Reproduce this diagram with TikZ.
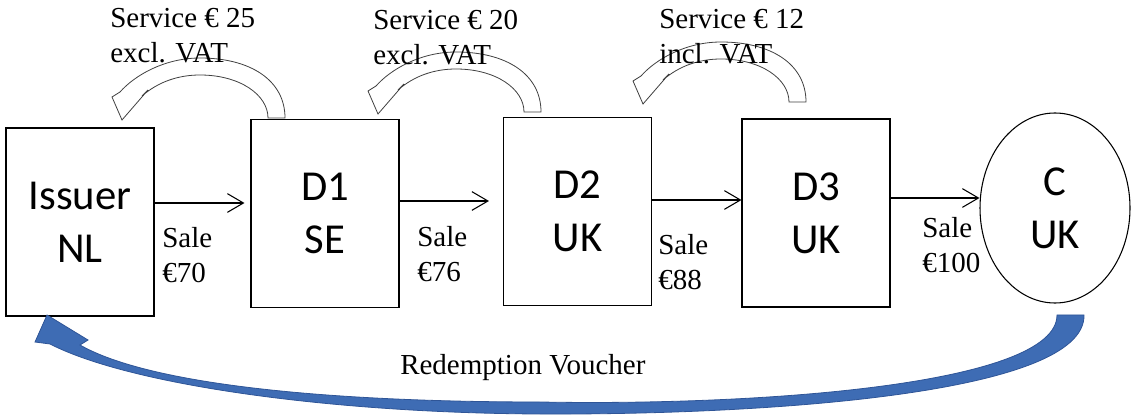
\documentclass[tikz,border=0pt]{standalone}
\usepackage{fontspec}
\setmainfont{Liberation Serif}
\newfontfamily\boxfont{Carlito}
\usetikzlibrary{arrows.meta,shapes.geometric}
\definecolor{voucherblue}{RGB}{62,108,180}
\definecolor{voucheredge}{RGB}{47,85,151}
\tikzset{
	party/.style={draw, line width=0.8pt, inner sep=0pt, align=center, font=\boxfont\fontsize{32}{40}\selectfont},
	dealer/.style={party, rectangle, minimum width=111pt, minimum height=141pt},
	lbl/.style={inner sep=0pt, anchor=base west, align=left, font=\fontsize{21.75}{26.5}\selectfont},
	sale/.style={-{Straight Barb[length=12pt,width=14pt]}, line width=0.8pt},
	svc/.style={draw=black!75, fill=white, line width=0.6pt}
}
\def\servicearrow(#1,#2){\draw[svc,shift={(#1,#2)}] (268,118) -- (285,118) .. controls (285,80) and (250,58) .. (200,58) .. controls (165,58) and (135,75) .. (120,92) -- (112,97) -- (122,120) -- (148,90) -- (142,96) .. controls (158,82) and (178,75) .. (200,75) .. controls (240,75) and (268,95) .. (268,118) -- cycle;}
\begin{document}
\begin{tikzpicture}[x=0.75pt,y=-0.75pt]
			%%%%% START %%%%%
			\useasboundingbox (0,0) rectangle (1131,416);
			
			\servicearrow(0,0)
			\servicearrow(256,-6)
			\servicearrow(521,-16)
			
			% base of the last line
			\node[lbl] (svc1) at (110,63) {Service € 25\\excl. VAT};
			\node[lbl] (svc2) at (373,65) {Service € 20\\excl. VAT};
			\node[lbl] (svc3) at (659,64) {Service € 12\\incl. VAT};
			
			\node[dealer] (issuer) at (80,222) {Issuer\\NL};
			\node[dealer] (d1) at (325,213.5) {D1\\SE};
			\node[dealer] (d2) at (577.5,211.5) {D2\\UK};
			\node[dealer] (d3) at (816,213) {D3\\UK};
			\node[party, ellipse, minimum width=112.5pt, minimum height=142.5pt] (c) at (1055,208) {C\\UK};
			
			\draw[sale, shorten >=4.5pt] (issuer.east |- 0,203) -- (d1.west |- 0,203);
			\draw[sale, shorten >=10.5pt] (d1.east |- 0,201) -- (d2.west |- 0,201);
			\draw[sale] (d2.east |- 0,200) -- (d3.west |- 0,200);
			\draw[sale] (d3.east |- 0,198) -- (c.west |- 0,198);
			
			\node[lbl] (sale1) at (162,283) {Sale\\€70};
			\node[lbl] (sale2) at (417,282) {Sale\\€76};
			\node[lbl] (sale3) at (658,290) {Sale\\€88};
			\node[lbl] (sale4) at (922,273) {Sale\\€100};
			
			% redemption back to the issuer
			\fill[voucherblue, draw=voucheredge, line width=0.6pt] (1084,315) .. controls (1086,395) and (760,415) .. (540,414) .. controls (330,413) and (130,385) .. (50,344) -- (35,342) -- (47,315) -- (88,340) -- (80,345) .. controls (150,385) and (330,402) .. (540,402) .. controls (760,406) and (1057,385) .. (1057,315) -- cycle;
			\node[lbl] (redeem) at (400,374) {Redemption Voucher};
			%%%%% END %%%%%
\end{tikzpicture}
\end{document}
